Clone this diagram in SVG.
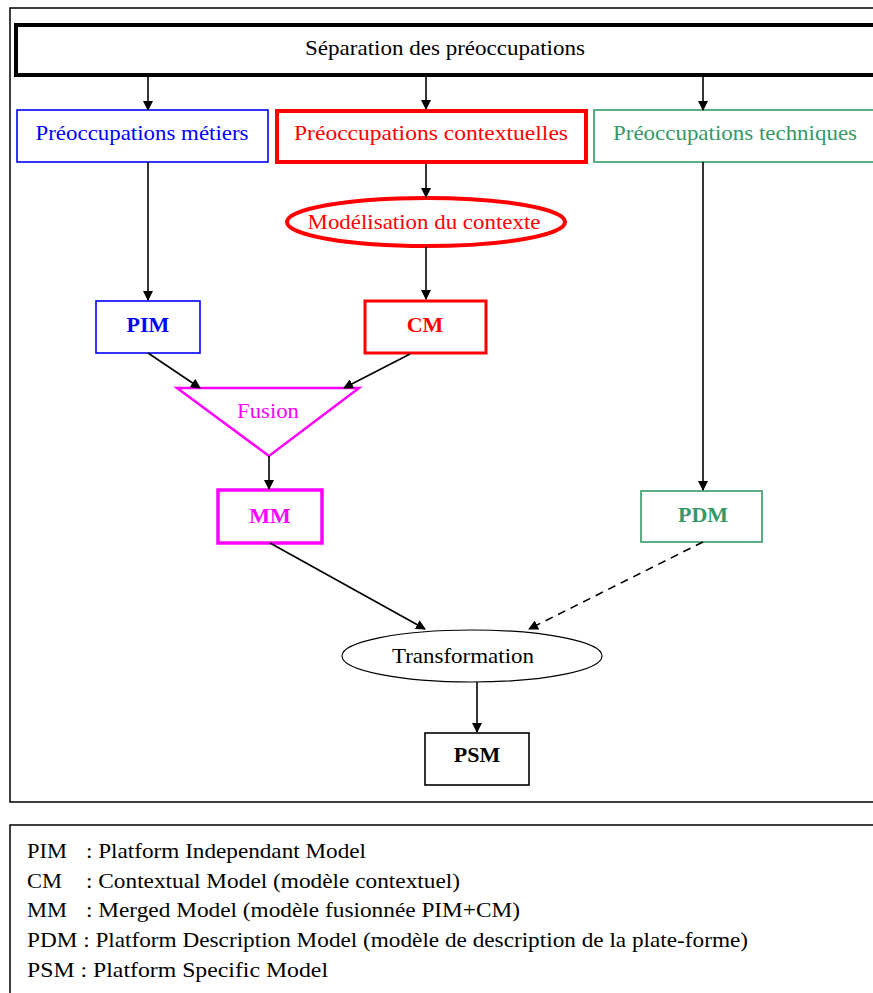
<svg xmlns="http://www.w3.org/2000/svg" width="873" height="993" viewBox="0 0 873 993">
  <style>
    text { font-family: "Liberation Serif", "Times New Roman", serif; font-size: 21px; }
    .c { text-anchor: middle; }
    .b { font-weight: bold; font-size: 22px; }
    .conn { stroke: #000; stroke-width: 1.6; fill: none; marker-end: url(#arr); }
    .blue { fill: none; stroke: #0000ff; stroke-width: 1.6; }
    .red { fill: none; stroke: #ff0000; }
    .green { fill: none; stroke: #339966; stroke-width: 1.6; }
    .mag { fill: none; stroke: #ff00ff; }
    .leg { font-size: 22px; }
  </style>
  <defs>
    <marker id="arr" markerWidth="10" markerHeight="10" refX="9" refY="5" orient="auto" markerUnits="userSpaceOnUse">
      <path d="M0,0 L10,5 L0,10 Z" fill="#000"/>
    </marker>
  </defs>

  <rect width="873" height="993" fill="#fff"/>

  <!-- outer frame -->
  <rect x="10" y="8" width="880" height="794" fill="none" stroke="#000" stroke-width="1.5"/>

  <g id="separation">
    <rect x="16" y="25" width="880" height="50" fill="none" stroke="#000" stroke-width="4"/>
    <text x="445" y="55" class="c" font-size="22" textLength="280" lengthAdjust="spacingAndGlyphs">Séparation des préoccupations</text>
  </g>

  <g id="metiers">
    <rect x="17" y="110" width="251" height="52" class="blue"/>
    <text x="142" y="140" class="c" fill="#0000ff" textLength="213" lengthAdjust="spacingAndGlyphs">Préoccupations métiers</text>
  </g>

  <g id="contextuelles">
    <rect x="277" y="111" width="309" height="51" class="red" stroke-width="4"/>
    <text x="431" y="140" class="c" fill="#ff0000" textLength="274" lengthAdjust="spacingAndGlyphs">Préoccupations  contextuelles</text>
  </g>

  <g id="techniques">
    <rect x="594" y="110" width="300" height="52" class="green"/>
    <text x="735" y="140" class="c" fill="#339966" textLength="244" lengthAdjust="spacingAndGlyphs">Préoccupations techniques</text>
  </g>

  <g id="modelisation">
    <ellipse cx="426" cy="222" rx="139" ry="24" class="red" stroke-width="4"/>
    <text x="424" y="229" class="c" fill="#ff0000" textLength="233" lengthAdjust="spacingAndGlyphs">Modélisation du contexte</text>
  </g>

  <g id="pim">
    <rect x="96" y="301" width="104" height="52" class="blue"/>
    <text x="148" y="332" class="c b" fill="#0000ff">PIM</text>
  </g>

  <g id="cm">
    <rect x="365" y="301" width="121" height="52" class="red" stroke-width="3"/>
    <text x="425" y="332" class="c b" fill="#ff0000">CM</text>
  </g>

  <g id="fusion">
    <polygon points="177,388 359,388 269,456" class="mag" stroke-width="2.5"/>
    <text x="268" y="418" class="c" fill="#ff00ff" textLength="62" lengthAdjust="spacingAndGlyphs">Fusion</text>
  </g>

  <g id="mm">
    <rect x="218" y="490" width="104" height="53" class="mag" stroke-width="3.5"/>
    <text x="270" y="523" class="c b" fill="#ff00ff">MM</text>
  </g>

  <g id="pdm">
    <rect x="641" y="491" width="121" height="51" class="green"/>
    <text x="703" y="522" class="c b" fill="#339966">PDM</text>
  </g>

  <g id="transformation">
    <ellipse cx="472" cy="656" rx="130" ry="26" fill="none" stroke="#000" stroke-width="1.2"/>
    <text x="463" y="663" class="c" fill="#000" textLength="142" lengthAdjust="spacingAndGlyphs">Transformation</text>
  </g>

  <g id="psm">
    <rect x="425" y="733" width="104" height="52" fill="none" stroke="#000" stroke-width="1.6"/>
    <text x="477" y="762" class="c b" fill="#000">PSM</text>
  </g>

  <g id="connectors">
    <line x1="148" y1="77" x2="148" y2="110" class="conn"/>
    <line x1="426" y1="77" x2="426" y2="109" class="conn"/>
    <line x1="703" y1="77" x2="703" y2="110" class="conn"/>
    <line x1="426" y1="164" x2="426" y2="197" class="conn"/>
    <line x1="148" y1="162" x2="148" y2="300" class="conn"/>
    <line x1="426" y1="247" x2="426" y2="299" class="conn"/>
    <line x1="703" y1="162" x2="703" y2="490" class="conn"/>
    <line x1="148" y1="353" x2="200" y2="388" class="conn"/>
    <line x1="410" y1="354" x2="344" y2="388" class="conn"/>
    <line x1="269" y1="456" x2="269" y2="489" class="conn"/>
    <line x1="270" y1="543" x2="425" y2="629" class="conn"/>
    <line x1="703" y1="542" x2="529" y2="629" class="conn" stroke-dasharray="8,6"/>
    <line x1="477" y1="682" x2="477" y2="732" class="conn"/>
  </g>

  <g id="legend">
    <rect x="10" y="825" width="880" height="190" fill="none" stroke="#000" stroke-width="1.5"/>
    <text x="27" y="858" class="leg" textLength="40" lengthAdjust="spacingAndGlyphs">PIM</text>
    <text x="86" y="858" class="leg" textLength="280" lengthAdjust="spacingAndGlyphs">: Platform Independant Model</text>
    <text x="27" y="888" class="leg" textLength="35" lengthAdjust="spacingAndGlyphs">CM</text>
    <text x="86" y="888" class="leg" textLength="374" lengthAdjust="spacingAndGlyphs">: Contextual Model (modèle contextuel)</text>
    <text x="27" y="917" class="leg" textLength="40" lengthAdjust="spacingAndGlyphs">MM</text>
    <text x="86" y="917" class="leg" textLength="434" lengthAdjust="spacingAndGlyphs">: Merged Model (modèle fusionnée PIM+CM)</text>
    <text x="27" y="947" class="leg" textLength="721" lengthAdjust="spacingAndGlyphs">PDM : Platform Description Model (modèle de description de la plate-forme)</text>
    <text x="27" y="977" class="leg" textLength="301" lengthAdjust="spacingAndGlyphs">PSM : Platform Specific Model</text>
  </g>
</svg>
